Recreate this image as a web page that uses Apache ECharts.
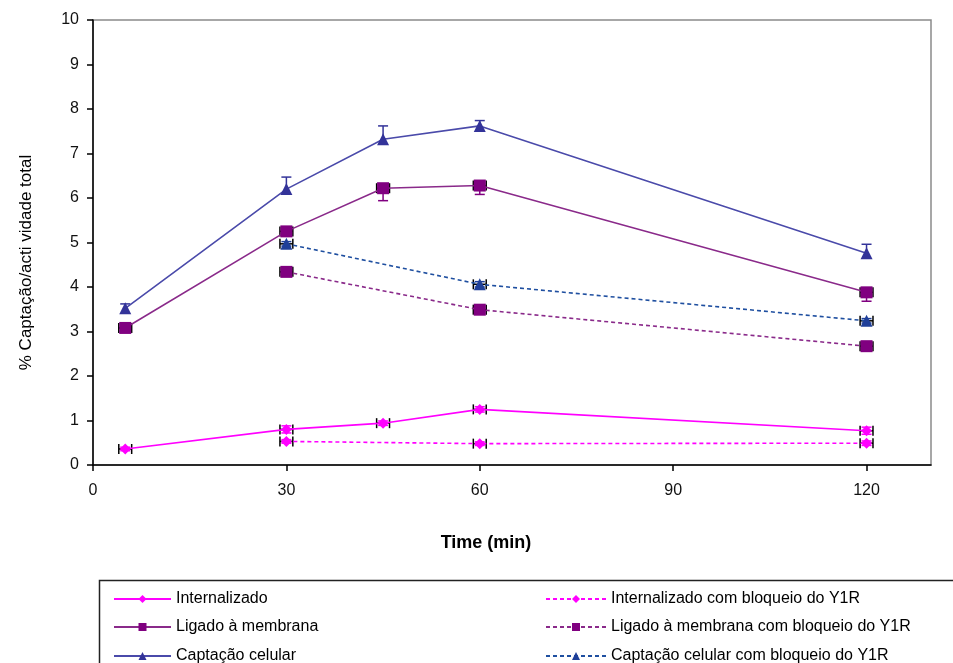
<!DOCTYPE html>
<html>
<head>
<meta charset="utf-8">
<script src="https://cdn.jsdelivr.net/npm/echarts@6/dist/echarts.min.js"></script>
<style>html,body{margin:0;padding:0;background:#fff}#c{width:953px;height:663px}</style>
</head>
<body>
<div id="c"></div>
<script>
// ---- data ----
const times = [5, 30, 45, 60, 120];
const timesBlock = [30, 60, 120];
const xTicks = [0, 30, 60, 90, 120];

const internalizado = [0.36, 0.80, 0.94, 1.25, 0.77];
const internalizadoErr = [0.04, 0.08, 0.05, 0.06, 0.08];
const internalizadoBlock = [0.53, 0.48, 0.49];
const internalizadoBlockErr = [0.04, 0.04, 0.05];

const ligado = [3.08, 5.25, 6.22, 6.28, 3.88];
const ligadoErr = [0.05, 0.08, 0.28, 0.20, 0.20];
const ligadoBlock = [4.34, 3.49, 2.67];
const ligadoBlockErr = [0.05, 0.05, 0.04];

const captacao = [3.52, 6.20, 7.32, 7.62, 4.76];
const captacaoErr = [0.10, 0.27, 0.30, 0.12, 0.20];
const captacaoBlock = [4.97, 4.06, 3.24];
const captacaoBlockErr = [0.05, 0.06, 0.05];

const timeErr = 1.0; // horizontal (time) error bar half-width, minutes

const names = [
  'Internalizado', 'Ligado à membrana', 'Captação celular',
  'Internalizado com bloqueio do Y1R', 'Ligado à membrana com bloqueio do Y1R', 'Captação celular com bloqueio do Y1R'
];

const FONT = '"Liberation Sans", Arial, sans-serif';

function pairs(xs, ys) { return xs.map((x, i) => [x, ys[i]]); }
function errData(xs, ys, es, ex) { return xs.map((x, i) => [x, ys[i], es[i], ex]); }

function errRender(color, mode) {
  return function (params, api) {
    const x = api.value(0), y = api.value(1), ey = api.value(2), ex = api.value(3);
    const children = [];
    const pC = api.coord([x, y]);
    const cw = 5;
    if (ey > 0) {
      const up = mode !== 'minus' ? y + ey : y;
      const dn = mode !== 'plus' ? y - ey : y;
      const pT = api.coord([x, up]), pB = api.coord([x, dn]);
      children.push({ type: 'line', shape: { x1: pC[0], y1: pT[1], x2: pC[0], y2: pB[1] }, style: { stroke: color, lineWidth: 1.5 } });
      if (mode !== 'minus') children.push({ type: 'line', shape: { x1: pC[0] - cw, y1: pT[1], x2: pC[0] + cw, y2: pT[1] }, style: { stroke: color, lineWidth: 1.5 } });
      if (mode !== 'plus') children.push({ type: 'line', shape: { x1: pC[0] - cw, y1: pB[1], x2: pC[0] + cw, y2: pB[1] }, style: { stroke: color, lineWidth: 1.5 } });
    }
    if (ex > 0) {
      const pL = api.coord([x - ex, y]), pR = api.coord([x + ex, y]);
      const h = 5;
      children.push({ type: 'line', shape: { x1: pL[0], y1: pC[1], x2: pR[0], y2: pC[1] }, style: { stroke: '#000', lineWidth: 1.5 } });
      children.push({ type: 'line', shape: { x1: pL[0], y1: pC[1] - h, x2: pL[0], y2: pC[1] + h }, style: { stroke: '#000', lineWidth: 1.5 } });
      children.push({ type: 'line', shape: { x1: pR[0], y1: pC[1] - h, x2: pR[0], y2: pC[1] + h }, style: { stroke: '#000', lineWidth: 1.5 } });
    }
    return { type: 'group', children: children };
  };
}

function lineSeries(name, data, lineColor, markColor, symbol, size, dashed, z) {
  return {
    name: name, type: 'line', data: data, z: z,
    symbol: symbol, symbolSize: size, showSymbol: true,
    lineStyle: { color: lineColor, width: 1.6, type: dashed ? [4, 3] : 'solid' },
    itemStyle: { color: markColor, borderWidth: 0 },
    emphasis: { disabled: true }, animation: false
  };
}
function errSeries(data, color, mode) {
  return { type: 'custom', data: data, renderItem: errRender(color, mode), z: 1, silent: true, animation: false };
}
function legendItem(name, left, top, w) {
  return {
    orient: 'horizontal', left: left, top: top, itemWidth: w, itemHeight: 10, itemGap: 0,
    data: [name], selectedMode: false, padding: 0,
    textStyle: { fontFamily: FONT, fontSize: 16, color: '#000', lineHeight: 18 }
  };
}

const C_INT = '#FF00FF', C_LIG = '#800080', C_LIG_LINE = '#8A2A8A', C_CAP_LINE = '#4A4AAA', C_CAP = '#333399', C_CAPB_LINE = '#1F4FA0', C_CAPB = '#1F3F99';

const chart = echarts.init(document.getElementById('c'), null, { renderer: 'canvas' });
chart.setOption({
  animation: false,
  backgroundColor: '#fff',
  grid: { left: 93, right: 22, top: 20, bottom: 198, show: true, borderColor: '#8a8a8a', borderWidth: 1.5, backgroundColor: 'transparent' },
  xAxis: {
    type: 'value', min: 0, max: 130, interval: 30,
    name: 'Time (min)', nameLocation: 'middle', nameGap: 69,
    nameTextStyle: { fontFamily: FONT, fontSize: 18, fontWeight: 'bold', color: '#000', padding: [0, 52, 0, 0] },
    axisLine: { onZero: false, lineStyle: { color: '#000', width: 1.5 } },
    axisTick: { show: true, inside: false, length: 6, lineStyle: { color: '#000', width: 1.5 }, customValues: xTicks },
    axisLabel: { fontFamily: FONT, fontSize: 16, color: '#111', margin: 18, customValues: xTicks },
    splitLine: { show: false }
  },
  yAxis: {
    type: 'value', min: 0, max: 10, interval: 1,
    name: '% Captação/acti vidade total', nameLocation: 'middle', nameGap: 58, nameRotate: 90,
    nameTextStyle: { fontFamily: FONT, fontSize: 17, color: '#000', padding: [0, 40, 0, 0] },
    axisLine: { show: true, lineStyle: { color: '#000', width: 1.5 } },
    axisTick: { show: true, inside: false, length: 6, lineStyle: { color: '#000', width: 1.5 } },
    axisLabel: { fontFamily: FONT, fontSize: 16, color: '#111', margin: 14 },
    splitLine: { show: false }
  },
  legend: [
    legendItem(names[0], 113, 590, 57),
    legendItem(names[1], 113, 618, 57),
    legendItem(names[2], 113, 647, 57),
    legendItem(names[3], 545, 590, 60),
    legendItem(names[4], 545, 618, 60),
    legendItem(names[5], 545, 647, 60)
  ],
  graphic: [{
    type: 'rect', left: 97, top: 578, silent: true,
    shape: { width: 900, height: 120 },
    style: { fill: 'none', stroke: '#222', lineWidth: 1.5 }
  }],
  series: [
    errSeries(errData(times, internalizado, internalizadoErr, timeErr), C_INT, 'both'),
    errSeries(errData(timesBlock, internalizadoBlock, internalizadoBlockErr, timeErr), C_INT, 'both'),
    errSeries(errData(times, ligado, ligadoErr, timeErr), C_LIG, 'minus'),
    errSeries(errData(timesBlock, ligadoBlock, ligadoBlockErr, timeErr), C_LIG, 'both'),
    errSeries(errData(times, captacao, captacaoErr, 0), C_CAP, 'plus'),
    errSeries(errData(timesBlock, captacaoBlock, captacaoBlockErr, timeErr), C_CAPB, 'both'),
    lineSeries(names[0], pairs(times, internalizado), C_INT, C_INT, 'diamond', 11, false, 3),
    lineSeries(names[1], pairs(times, ligado), C_LIG_LINE, C_LIG, 'rect', 12, false, 3),
    lineSeries(names[2], pairs(times, captacao), C_CAP_LINE, C_CAP, 'triangle', 12, false, 3),
    lineSeries(names[3], pairs(timesBlock, internalizadoBlock), C_INT, C_INT, 'diamond', 11, true, 2),
    lineSeries(names[4], pairs(timesBlock, ligadoBlock), C_LIG_LINE, C_LIG, 'rect', 12, true, 2),
    lineSeries(names[5], pairs(timesBlock, captacaoBlock), C_CAPB_LINE, C_CAPB, 'triangle', 12, true, 2)
  ]
});
</script>
</body>
</html>
